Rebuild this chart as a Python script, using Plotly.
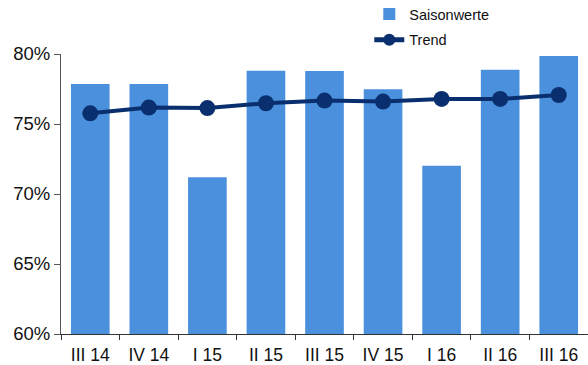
import plotly.graph_objects as go

categories = ["III 14", "IV 14", "I 15", "II 15", "III 15", "IV 15", "I 16", "II 16", "III 16"]
saisonwerte = [77.86, 77.86, 71.2, 78.8, 78.79, 77.48, 72.02, 78.88, 79.86]
trend = [75.76, 76.17, 76.14, 76.48, 76.67, 76.6, 76.79, 76.79, 77.07]
y_ticks = [60, 65, 70, 75, 80]
y_tick_labels = ["60%", "65%", "70%", "75%", "80%"]

bar_color = "rgb(74,144,220)"
trend_color = "rgb(10,47,110)"

fig = go.Figure()
fig.add_trace(go.Bar(
    x=categories, y=saisonwerte, name="Saisonwerte", legendgroup="a",
    marker=dict(color=bar_color, line=dict(width=0)),
))
fig.add_trace(go.Scatter(
    x=categories, y=trend, name="Trend", mode="lines+markers", legendgroup="b",
    line=dict(color=trend_color, width=4),
    marker=dict(color=trend_color, size=16),
))

fig.update_layout(
    width=588, height=365,
    margin=dict(l=61, r=0, t=54, b=31, autoexpand=False),
    paper_bgcolor="white", plot_bgcolor="white",
    font=dict(family="Liberation Sans, Arial, sans-serif", size=17, color="#111111"),
    bargap=0.34,
    showlegend=True,
    legend=dict(
        x=0.585, y=1.2, xanchor="left", yanchor="top",
        font=dict(size=14.5, color="#111111"),
        bgcolor="rgba(0,0,0,0)",
        traceorder="grouped", tracegroupgap=4, itemsizing="constant",
    ),
)
fig.update_xaxes(
    type="category", range=[-0.5, len(categories) - 0.5],
    showgrid=False, showline=True, linecolor="#333333", linewidth=1,
    ticks="outside", tickson="boundaries", ticklen=5, tickcolor="#333333",
    tickfont=dict(size=17.5), automargin=False, ticklabelstandoff=5,
)
fig.update_yaxes(
    range=[60, 80], tickvals=y_ticks, ticktext=y_tick_labels,
    showgrid=False, showline=True, linecolor="#555555", linewidth=1,
    ticks="outside", ticklen=6, tickcolor="#555555", zeroline=False,
    tickfont=dict(size=18.5), automargin=False,
)

fig.write_html("out.html")
